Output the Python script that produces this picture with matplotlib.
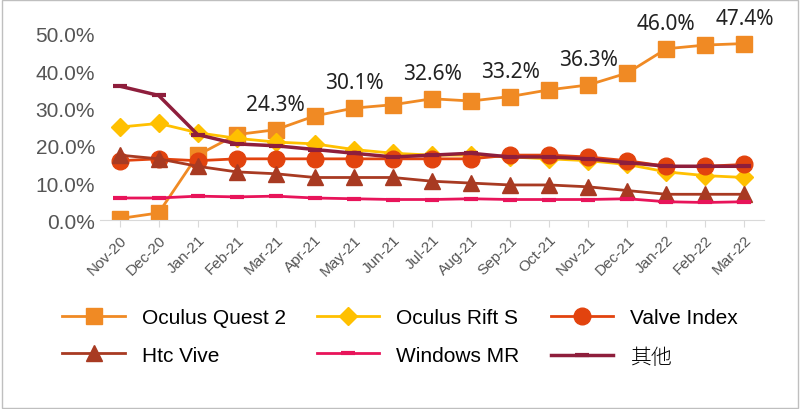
import matplotlib.pyplot as plt
from matplotlib import font_manager as fm
import numpy as np

plt.rcParams["font.family"] = "Liberation Sans"

months = ["Nov-20", "Dec-20", "Jan-21", "Feb-21", "Mar-21", "Apr-21", "May-21", "Jun-21", "Jul-21",
          "Aug-21", "Sep-21", "Oct-21", "Nov-21", "Dec-21", "Jan-22", "Feb-22", "Mar-22"]
quest2 = [0.5, 2.0, 17.5, 23.0, 24.3, 28.0, 30.1, 31.0, 32.6, 32.0, 33.2, 35.0, 36.3, 39.5, 46.0, 47.0, 47.4]
rift_s = [25.0, 26.0, 23.5, 22.0, 21.0, 20.5, 19.0, 18.0, 17.5, 17.5, 17.0, 16.5, 16.0, 15.0, 13.0, 12.0, 11.5]
valve = [16.0, 16.5, 16.0, 16.5, 16.5, 16.5, 16.5, 16.5, 16.5, 16.5, 17.5, 17.5, 17.0, 16.0, 14.5, 14.5, 15.0]
htc = [17.5, 16.5, 14.5, 13.0, 12.5, 11.5, 11.5, 11.5, 10.5, 10.0, 9.5, 9.5, 9.0, 8.0, 7.0, 7.0, 7.0]
wmr = [6.0, 6.0, 6.5, 6.3, 6.5, 6.0, 5.8, 5.6, 5.6, 5.8, 5.6, 5.6, 5.6, 5.8, 5.0, 4.8, 5.0]
other = [36.0, 33.5, 23.0, 20.5, 20.0, 19.0, 18.0, 17.0, 17.5, 18.0, 17.0, 17.0, 16.5, 15.5, 14.5, 14.5, 14.5]
label_idx = [4, 6, 8, 10, 12, 14, 16]

fig = plt.figure(figsize=(8, 4.1), dpi=100)
ax = fig.add_axes([0.125, 0.46, 0.83, 0.455])
x = np.arange(len(months))

h_q2, = ax.plot(x, quest2, color="#F08A24", marker="s", ms=11, lw=2, label="Oculus Quest 2")
h_rs, = ax.plot(x, rift_s, color="#FFC000", marker="D", ms=9, lw=2, label="Oculus Rift S")
h_vi, = ax.plot(x, valve, color="#E2430E", marker="o", ms=12, lw=2, label="Valve Index")
h_htc, = ax.plot(x, htc, color="#A83A22", marker="^", ms=11, lw=2, label="Htc Vive")
h_wmr, = ax.plot(x, wmr, color="#E8145A", marker="_", ms=10, mew=3, lw=2, label="Windows MR")
h_oth, = ax.plot(x, other, color="#8E1E3C", marker="_", ms=10, mew=3, lw=2.5, label="其他")

for i in label_idx:
    ax.text(x[i], quest2[i] + 4.0, f"{quest2[i]:.1f}%", ha="center", va="bottom", fontsize=15,
            color="#222222", family="Noto Sans")

ax.set_xlim(-0.5, 16.5)
ax.set_ylim(0, 50)
ax.set_yticks(np.arange(0, 51, 10))
ax.set_yticklabels([f"{v:.1f}%" for v in range(0, 51, 10)], fontsize=15, color="#555555")
ax.set_xticks(x)
ax.set_xticklabels(months, rotation=45, ha="right", rotation_mode="anchor", fontsize=11, color="#555555")
for s in ["top", "right", "left"]:
    ax.spines[s].set_visible(False)
ax.spines["bottom"].set_color("#D9D9D9")
ax.tick_params(axis="y", length=0)
ax.tick_params(axis="x", length=5, color="#D9D9D9", direction="out")

# column-major fill -> order so rows read Q2/RiftS/Valve, Htc/WMR/其他
handles = [h_q2, h_htc, h_rs, h_wmr, h_vi, h_oth]
leg = fig.legend(handles=handles, labels=[h.get_label() for h in handles],
                 loc="lower center", bbox_to_anchor=(0.5, 0.055), ncol=3, frameon=False,
                 fontsize=15, handlelength=3, columnspacing=1.5, labelspacing=0.9)

# pick an installed CJK font file directly
cjk = [f.fname for f in fm.fontManager.ttflist if "CJK" in f.name and f.name.endswith("SC")]
cjk = cjk or [f.fname for f in fm.fontManager.ttflist if "CJK" in f.name]
if cjk:
    for t in leg.get_texts():
        if t.get_text() == "其他":
            t.set_fontproperties(fm.FontProperties(fname=cjk[0], size=15))
fig.patches.append(plt.Rectangle((0.003, 0.003), 0.994, 0.994, transform=fig.transFigure,
                                 fill=False, ec="#BFBFBF", lw=1))
fig.savefig("out.png", dpi=100, facecolor="white")
